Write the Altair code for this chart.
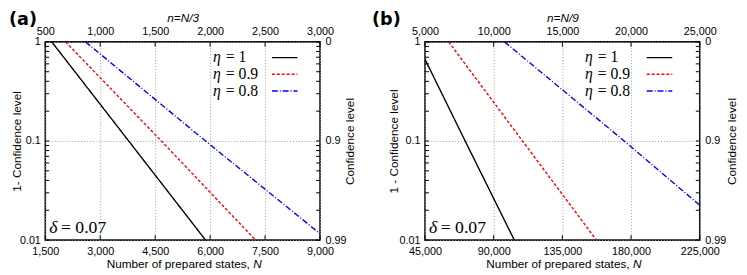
import altair as alt
import pandas as pd

# ---------------- data ----------------
series = ["eta=1", "eta=0.9", "eta=0.8"]
eta_labels = ["= 1", "= 0.9", "= 0.8"]
delta_label = "= 0.07"

# panel (a): N vs (1 - confidence level)
a_N_eta1 = [1677, 3777, 5875]
a_p_eta1 = [1.0, 0.1, 0.01]
a_N_eta09 = [2054, 4669, 7241]
a_p_eta09 = [1.0, 0.1, 0.01]
a_N_eta08 = [2598, 5875, 9000]
a_p_eta08 = [1.0, 0.1, 0.0116]

# panel (b)
b_N_eta1 = [45000, 71300, 103500]
b_p_eta1 = [0.667, 0.1, 0.01]
b_N_eta09 = [60500, 108900, 157300]
b_p_eta09 = [1.0, 0.1, 0.01]
b_N_eta08 = [97100, 175500, 225000]
b_p_eta08 = [1.0, 0.1, 0.0225]

a_xticks = [1500, 3000, 4500, 6000, 7500, 9000]
b_xticks = [45000, 90000, 135000, 180000, 225000]
y_major = [0.01, 0.1, 1.0]
y_minor = [0.02, 0.03, 0.04, 0.05, 0.06, 0.07, 0.08, 0.09,
           0.2, 0.3, 0.4, 0.5, 0.6, 0.7, 0.8, 0.9]
conf_labels = ["0.99", "0.9", "0"]

# ---------------- style ----------------
W, H = 280, 202
colors = ["#000000", "#ff0000", "#0000ff"]
dashes = [[1, 0], [3, 2], [6, 2, 1, 2]]
SANS = "Liberation Sans"
SERIF = "Liberation Serif"
MATH_SIZE = 16


def conf_expr():
    return (f"datum.value > 0.5 ? '{conf_labels[2]}' : "
            f"(datum.value > 0.05 ? '{conf_labels[1]}' : '{conf_labels[0]}')")


def panel(tag, Ns, ps, xticks, divisor, left_title, ltitle_x, rtitle_x,
          leg_text_x, leg_line_x, tag_x):
    rows = []
    for s, N, p in zip(series, Ns, ps):
        for n, v in zip(N, p):
            rows.append({"series": s, "N": n, "p": v})
    df = pd.DataFrame(rows)
    xs = alt.Scale(domain=[xticks[0], xticks[-1]], nice=False, zero=False)
    ys = alt.Scale(type="log", domain=[0.01, 1], nice=False)

    lines = alt.Chart(df).mark_line(clip=True, strokeWidth=1.4).encode(
        x=alt.X("N:Q", scale=xs, axis=alt.Axis(
            orient="bottom", values=xticks,
            labelExpr="format(datum.value, ',')", title=None,
            ticks=False, domain=False, grid=True, gridDash=[1, 2],
            gridColor="#999999", labelPadding=6, labelFontSize=11,
            labelColor="#000", labelFlush=False)),
        y=alt.Y("p:Q", scale=ys, axis=alt.Axis(
            orient="left", values=y_major, format="~g", title=left_title,
            ticks=False, domain=False, grid=True, gridDash=[1, 2],
            gridColor="#999999", labelPadding=5, labelFontSize=11,
            labelColor="#000", labelFlush=False,
            titleFontSize=12, titleFontWeight="normal", titleColor="#000",
            titleAngle=270, titleX=ltitle_x, titleY=H / 2,
            titleBaseline="alphabetic", titleAlign="center")),
        color=alt.Color("series:N", scale=alt.Scale(domain=series, range=colors), legend=None),
        strokeDash=alt.StrokeDash("series:N", scale=alt.Scale(domain=series, range=dashes), legend=None),
    )

    xt = pd.DataFrame({"t": xticks})
    top_ticks = alt.Chart(xt).mark_rule(color="#000", strokeWidth=1).encode(
        x=alt.X("t:Q", scale=xs, axis=alt.Axis(
            orient="top", values=xticks,
            labelExpr=f"format(datum.value/{divisor}, ',')",
            title=f"n=N/{divisor}", titleFontStyle="italic",
            titleFontWeight="normal", titleFontSize=12, titleColor="#000",
            titlePadding=1, ticks=False, domain=False, grid=False,
            labelPadding=6, labelFontSize=11, labelColor="#000",
            labelFlush=False)),
        y=alt.value(0), y2=alt.value(5),
    )
    bottom_ticks = alt.Chart(xt).mark_rule(color="#000", strokeWidth=1).encode(
        x=alt.X("t:Q", scale=xs, axis=None),
        y=alt.value(H - 5), y2=alt.value(H),
    )

    yt = pd.DataFrame({"v": y_major + y_minor})
    right_ticks = alt.Chart(yt).mark_rule(color="#000", strokeWidth=1).encode(
        y=alt.Y("v:Q", scale=ys, axis=alt.Axis(
            orient="right", values=y_major, labelExpr=conf_expr(),
            title="Confidence level", ticks=False, domain=False, grid=False,
            labelPadding=5, labelFontSize=11, labelColor="#000",
            labelFlush=False, titleFontSize=12, titleFontWeight="normal",
            titleColor="#000", titleAngle=270, titleX=rtitle_x, titleY=H / 2,
            titleBaseline="alphabetic", titleAlign="center")),
        x=alt.value(W - 4), x2=alt.value(W),
    )
    left_ticks = alt.Chart(yt).mark_rule(color="#000", strokeWidth=1).encode(
        y=alt.Y("v:Q", scale=ys, axis=None),
        x=alt.value(0), x2=alt.value(4),
    )

    layers = [lines, top_ticks, bottom_ticks, right_ticks, left_ticks]

    # legend (labels on the left, samples on the right)
    row_y = [16, 33, 50]
    for i in range(3):
        d = pd.DataFrame({"eta": ["η"], "lab": [eta_labels[i]]})
        layers.append(alt.Chart(d).mark_text(
            font=SERIF, fontSize=MATH_SIZE, fontStyle="italic", align="left",
            baseline="middle").encode(text="eta:N", x=alt.value(leg_text_x),
                                      y=alt.value(row_y[i])))
        layers.append(alt.Chart(d).mark_text(
            font=SERIF, fontSize=MATH_SIZE, align="left", baseline="middle").encode(
            text="lab:N", x=alt.value(leg_text_x + 13), y=alt.value(row_y[i])))
        layers.append(alt.Chart(d).mark_rule(
            color=colors[i], strokeDash=dashes[i], strokeWidth=1.4).encode(
            x=alt.value(leg_line_x), x2=alt.value(leg_line_x + 26),
            y=alt.value(row_y[i])))

    dd = pd.DataFrame({"d": ["δ"], "lab": [delta_label]})
    layers.append(alt.Chart(dd).mark_text(
        font=SERIF, fontSize=18, fontStyle="italic", align="left",
        baseline="alphabetic").encode(text="d:N", x=alt.value(4),
                                      y=alt.value(H - 7)))
    layers.append(alt.Chart(dd).mark_text(
        font=SERIF, fontSize=18, align="left", baseline="alphabetic").encode(
        text="lab:N", x=alt.value(16), y=alt.value(H - 7)))

    # bottom axis title with italic N
    tt = pd.DataFrame({"a": ["Number of prepared states,"], "b": ["N"]})
    layers.append(alt.Chart(tt).mark_text(
        font=SANS, fontSize=12, align="right", baseline="alphabetic",
        color="#000").encode(text="a:N", x=alt.value(208.5), y=alt.value(H + 28)))
    layers.append(alt.Chart(tt).mark_text(
        font=SANS, fontSize=12, fontStyle="italic", align="left",
        baseline="alphabetic", color="#000").encode(
        text="b:N", x=alt.value(212), y=alt.value(H + 28)))

    # panel tag
    tg = pd.DataFrame({"t": [tag]})
    layers.append(alt.Chart(tg).mark_text(
        font="DejaVu Sans", fontSize=18, fontWeight="bold", align="left",
        baseline="top", color="#000").encode(
        text="t:N", x=alt.value(tag_x), y=alt.value(-31)))

    return alt.layer(*layers).resolve_scale(x="independent", y="independent").properties(
        width=W, height=H)


pa = panel("(a)", [a_N_eta1, a_N_eta09, a_N_eta08], [a_p_eta1, a_p_eta09, a_p_eta08],
           a_xticks, 3, "1- Confidence level", -25, 34, 171, 231, -37)
pb = panel("(b)", [b_N_eta1, b_N_eta09, b_N_eta08], [b_p_eta1, b_p_eta09, b_p_eta08],
           b_xticks, 9, "1 - Confidence level", -27.7, 36.7, 163, 226, -54)

chart = alt.hconcat(pa, pb, spacing=15).properties(padding=0).configure(
    font=SANS).configure_view(stroke="#111111", strokeWidth=1.6)

chart.save("out.html", embed_options={"renderer": "svg", "actions": False})
